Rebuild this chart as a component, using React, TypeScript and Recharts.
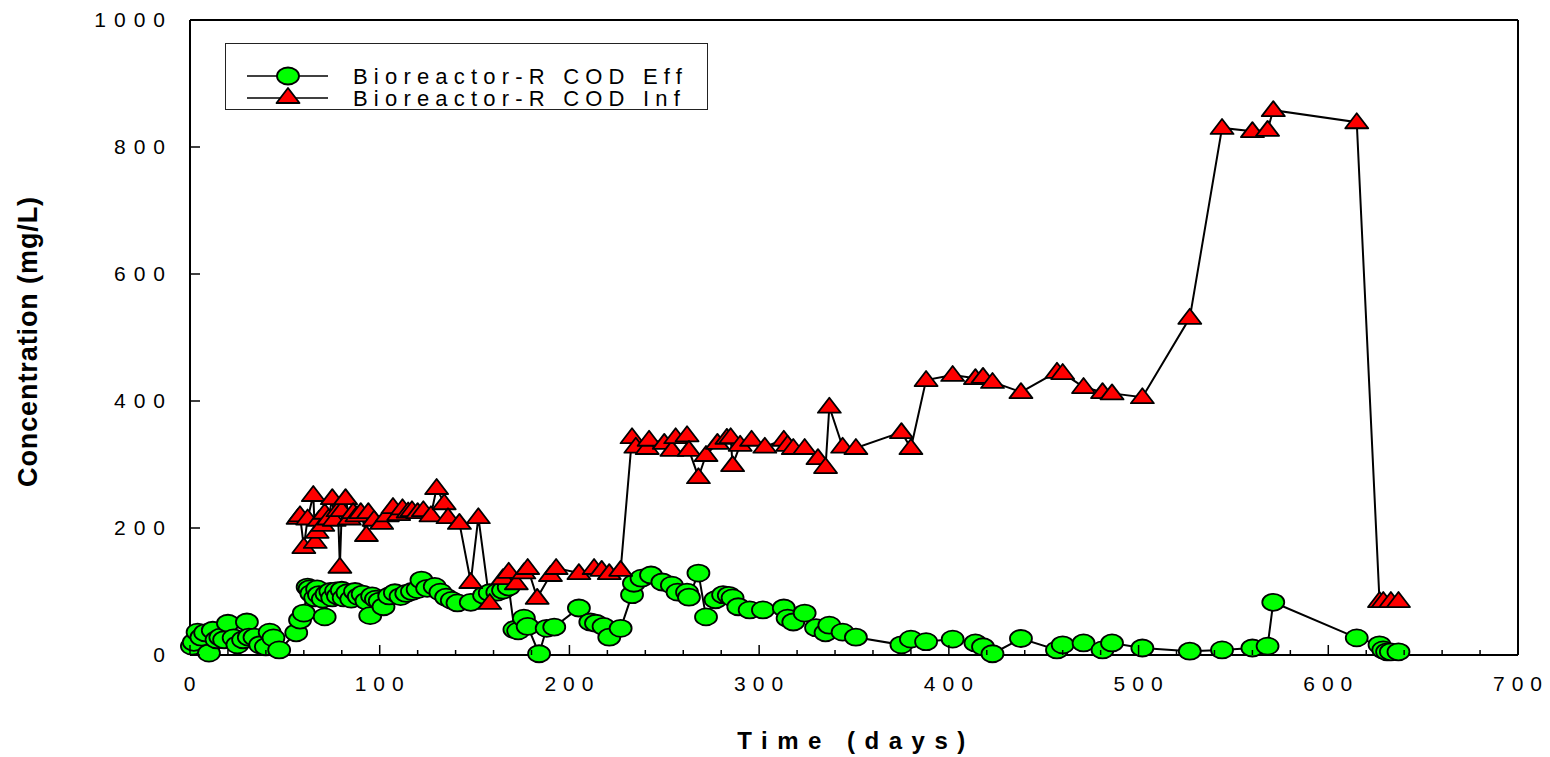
import { LineChart, Line, XAxis, YAxis, Label, ReferenceLine } from "recharts";

// Bioreactor-R COD effluent (green circles)
const effDays = [
  1, 2, 4, 6, 8, 10, 12, 14, 16, 18, 20, 23, 25, 28, 30, 31, 34, 37, 40, 42, 44, 47, 56, 58, 60, 62,
  63, 64, 66, 67, 68, 70, 71, 72, 74, 75, 77, 78, 80, 81, 83, 85, 87, 89, 91, 93, 95, 96, 98, 100,
  102, 105, 108, 111, 114, 117, 120, 122, 125, 129, 132, 135, 138, 141, 148, 155, 158, 162, 165, 168,
  171, 173, 176, 178, 184, 188, 192, 205, 211, 214, 218, 221, 227, 233, 234, 238, 243, 249, 254, 257,
  262, 263, 268, 272, 277, 281, 284, 286, 289, 295, 302, 313, 315, 318, 324, 330, 335, 337, 344, 351,
  375, 380, 388, 402, 414, 418, 423, 438, 457, 460, 471, 481, 486, 502, 527, 544, 560, 568, 571, 615,
  627, 629, 631, 633, 637,
];
const effConc = [
  14, 20, 36, 28, 35, 3, 39, 24, 28, 24, 50, 27, 16, 24, 52, 28, 28, 16, 13, 36, 27, 8, 35, 55, 66, 107,
  104, 97, 90, 104, 95, 88, 60, 96, 100, 90, 101, 93, 102, 90, 98, 88, 100, 92, 96, 85, 62, 93, 88, 85,
  76, 93, 98, 92, 97, 100, 103, 118, 105, 108, 99, 91, 86, 82, 83, 94, 98, 99, 102, 107,
  40, 38, 58, 45, 2, 42, 44, 74, 52, 50, 45, 28, 42, 95, 113, 121, 126, 115, 110, 99,
  99, 91, 129, 60, 87, 95, 94, 90, 76, 71, 71, 74, 58, 52, 66, 43, 35, 47, 36, 28,
  16, 25, 21, 25, 19, 13, 2, 26, 8, 16, 19, 8, 19, 11, 6, 8, 11, 14, 83, 27,
  16, 8, 5, 5, 5,
];

// Bioreactor-R COD influent (red triangles)
const infDays = [
  57, 58, 60, 62, 65, 66, 67, 68, 70, 71, 73, 75, 76, 78, 79, 80, 82, 84, 86, 88, 90, 93, 94, 97,
  101, 104, 107, 110, 112, 115, 117, 120, 123, 127, 130, 134, 136, 142, 148, 152, 158, 165, 168, 172,
  176, 178, 183, 190, 193, 205, 213, 217, 221, 227, 233, 235, 241, 242, 250, 254, 256, 262, 263, 268,
  272, 278, 283, 285, 286, 290, 296, 303, 313, 315, 318, 324, 331, 335, 337, 344, 351, 375, 380, 388,
  402, 414, 418, 423, 438, 457, 460, 471, 481, 486, 502, 527, 544, 560, 568, 571, 615, 627, 629, 633,
  637,
];
const infConc = [
  216, 220, 170, 215, 252, 178, 194, 213, 205, 224, 215, 247, 213, 228, 139, 228, 247, 215, 225, 220, 225, 189, 225, 213,
  208, 220, 233, 222, 231, 226, 228, 225, 228, 220, 263, 239, 217, 208, 115, 217, 82, 121, 131, 113,
  130, 137, 90, 126, 137, 129, 137, 134, 129, 134, 343, 328, 326, 339, 334, 323, 343, 346, 323, 280,
  315, 334, 342, 343, 299, 331, 339, 328, 339, 331, 326, 326, 310, 296, 391, 328, 326, 351, 326, 433,
  441, 436, 438, 430, 414, 446, 444, 422, 414, 412, 406, 531, 830, 825, 827, 858, 839, 85, 85, 85,
  85,
];

const dayTicks = [
  0, 20, 40, 60, 80, 100, 120, 140, 160, 180, 200, 220, 240, 260, 280, 300, 320, 340, 360, 380, 400,
  420, 440, 460, 480, 500, 520, 540, 560, 580, 600, 620, 640, 660, 680, 700,
];
const concTicks = [0, 200, 400, 600, 800, 1000];

const effData = effDays.map((day, i) => ({ day, eff: effConc[i] }));
const infData = infDays.map((day, i) => ({ day, inf: infConc[i] }));

const FONT = "'Liberation Sans', Arial, Helvetica, sans-serif";
const PLOT_LEFT = 190;
const PLOT_RIGHT = 1518;
const PLOT_TOP = 20;
const PLOT_BOTTOM = 655;

function EllipseDot(props: any) {
  const { cx, cy, index } = props;
  if (cx == null || cy == null) return null;
  return (
    <ellipse key={`e-${index}`} cx={cx} cy={cy} rx={11} ry={8.5} fill="#00ff00" stroke="#000" strokeWidth={1.8} />
  );
}

function TriangleDot(props: any) {
  const { cx, cy, index } = props;
  if (cx == null || cy == null) return null;
  const pts = `${cx - 11.5},${cy + 6} ${cx + 11.5},${cy + 6} ${cx},${cy - 9}`;
  return <polygon key={`t-${index}`} points={pts} fill="#ff0000" stroke="#000" strokeWidth={1.8} strokeLinejoin="round" />;
}

function BottomTick(props: any) {
  const { x, payload } = props;
  const v = payload.value;
  const major = v % 100 === 0;
  return (
    <g>
      <line x1={x} x2={x} y1={PLOT_BOTTOM} y2={PLOT_BOTTOM - (major ? 10 : 5)} stroke="#000" strokeWidth={1.5} />
      {major && (
        <text x={x + 3} y={PLOT_BOTTOM + 36} textAnchor="middle" fontFamily={FONT} fontSize={21} letterSpacing={7} fill="#000">
          {v}
        </text>
      )}
    </g>
  );
}

function TopTick(props: any) {
  const { x, payload } = props;
  const major = payload.value % 100 === 0;
  return <line x1={x} x2={x} y1={PLOT_TOP} y2={PLOT_TOP + (major ? 10 : 5)} stroke="#000" strokeWidth={1.5} />;
}

function LeftTick(props: any) {
  const { y, payload } = props;
  return (
    <g>
      <line x1={PLOT_LEFT} x2={PLOT_LEFT + 10} y1={y} y2={y} stroke="#000" strokeWidth={1.5} />
      <text x={PLOT_LEFT - 17} y={y + 7} textAnchor="end" fontFamily={FONT} fontSize={21} letterSpacing={8} fill="#000">
        {payload.value}
      </text>
    </g>
  );
}

function RightTick(props: any) {
  const { y } = props;
  return <line x1={PLOT_RIGHT} x2={PLOT_RIGHT - 10} y1={y} y2={y} stroke="#000" strokeWidth={1.5} />;
}

function XTitle(props: any) {
  const vb = props.viewBox;
  return (
    <text x={vb.x + vb.width / 2 + 2} y={749} textAnchor="middle" fontFamily={FONT} fontWeight="bold" fontSize={24} letterSpacing={9.5} fill="#000">
      Time (days)
    </text>
  );
}

function YTitle() {
  const cy = (PLOT_TOP + PLOT_BOTTOM) / 2 + 4;
  return (
    <text x={37} y={cy} transform={`rotate(-90, 37, ${cy})`} textAnchor="middle" fontFamily={FONT} fontWeight="bold" fontSize={27} letterSpacing={0.9} fill="#000">
      Concentration (mg/L)
    </text>
  );
}

function LegendBox() {
  const rows = [
    { label: "Bioreactor-R COD Eff", kind: "eff" },
    { label: "Bioreactor-R COD Inf", kind: "inf" },
  ];
  return (
    <div
      style={{
        position: "absolute",
        left: 225,
        top: 43,
        width: 483,
        height: 67,
        border: "1.5px solid #222",
        boxSizing: "border-box",
        background: "#fff",
      }}
    >
      <svg width={483} height={67} style={{ position: "absolute", left: -1.5, top: -1.5 }}>
        {rows.map((r, i) => {
          const cy = 33 + i * 22;
          return (
            <g key={r.kind}>
              <line x1={22} x2={103} y1={cy} y2={cy} stroke="#000" strokeWidth={1.5} />
              {r.kind === "eff" ? (
                <EllipseDot cx={63} cy={cy} index={0} />
              ) : (
                <TriangleDot cx={63} cy={cy - 1} index={0} />
              )}
              <text x={128} y={cy + 8} fontFamily={FONT} fontSize={22} letterSpacing={6.2} fill="#000">
                {r.label}
              </text>
            </g>
          );
        })}
      </svg>
    </div>
  );
}

export default function App() {
  return (
    <div style={{ position: "absolute", left: 0, top: 0, width: 1550, height: 757, background: "#fff" }}>
      <LineChart width={1550} height={757} margin={{ top: 0, right: 0, bottom: 0, left: 0 }}>
        <XAxis
          dataKey="day"
          type="number"
          domain={[0, 700]}
          ticks={dayTicks}
          interval={0}
          height={757 - PLOT_BOTTOM}
          axisLine={{ stroke: "#000", strokeWidth: 2 }}
          tickLine={false}
          tick={<BottomTick />}
        >
          <Label content={<XTitle />} />
        </XAxis>
        <XAxis
          xAxisId="top"
          orientation="top"
          dataKey="day"
          type="number"
          domain={[0, 700]}
          ticks={dayTicks}
          interval={0}
          height={PLOT_TOP}
          axisLine={{ stroke: "#000", strokeWidth: 2 }}
          tickLine={false}
          tick={<TopTick />}
        />
        <YAxis
          type="number"
          domain={[0, 1000]}
          ticks={concTicks}
          interval={0}
          width={PLOT_LEFT}
          axisLine={{ stroke: "#000", strokeWidth: 2 }}
          tickLine={false}
          tick={<LeftTick />}
        >
          <Label content={<YTitle />} />
        </YAxis>
        <YAxis
          yAxisId="right"
          orientation="right"
          type="number"
          domain={[0, 1000]}
          ticks={concTicks}
          interval={0}
          width={1550 - PLOT_RIGHT}
          axisLine={{ stroke: "#000", strokeWidth: 2 }}
          tickLine={false}
          tick={<RightTick />}
        />
        <ReferenceLine y={1000} stroke="#000" strokeWidth={2} />
        <ReferenceLine x={700} stroke="#000" strokeWidth={2} />
        <Line
          data={effData}
          dataKey="eff"
          stroke="#000"
          strokeWidth={2}
          dot={<EllipseDot />}
          activeDot={false}
          isAnimationActive={false}
        />
        <Line
          data={infData}
          dataKey="inf"
          stroke="#000"
          strokeWidth={2}
          dot={<TriangleDot />}
          activeDot={false}
          isAnimationActive={false}
        />
      </LineChart>
      <LegendBox />
    </div>
  );
}
